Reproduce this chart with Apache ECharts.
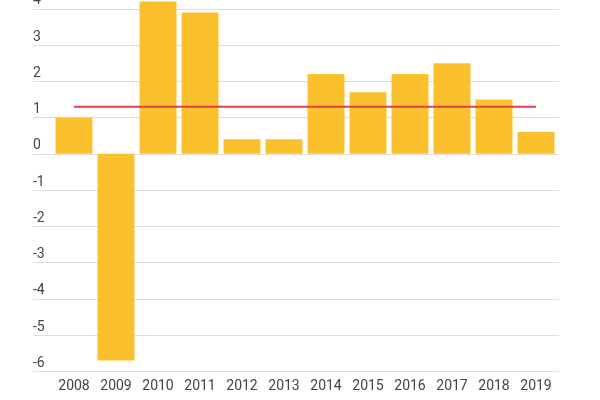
<!DOCTYPE html>
<html>
<head>
<meta charset="utf-8">
<script src="https://cdn.jsdelivr.net/npm/echarts@6/dist/echarts.min.js"></script>
<style>
html,body{margin:0;padding:0;background:#fff;overflow:hidden;}
#chart{width:600px;height:428px;margin-top:-28px;}
</style>
</head>
<body>
<div id="chart"></div>
<script>
var categories = ['2008','2009','2010','2011','2012','2013','2014','2015','2016','2017','2018','2019'];
var growth = [1.0, -5.7, 4.2, 3.9, 0.4, 0.4, 2.2, 1.7, 2.2, 2.5, 1.5, 0.6];
var average = [1.3, 1.3, 1.3, 1.3, 1.3, 1.3, 1.3, 1.3, 1.3, 1.3, 1.3, 1.3];
var yMin = -6, yMax = 5, yStep = 1;

var chart = echarts.init(document.getElementById('chart'), null, {renderer: 'canvas'});
var font = 'Roboto, "Noto Sans", sans-serif';
chart.setOption({
  animation: false,
  backgroundColor: '#ffffff',
  grid: [
    {left: 33, right: 41, top: 0.5, bottom: 28.7, outerBoundsMode: 'none', containLabel: false},
    {left: 53, right: 43, top: 0.5, bottom: 28.7, outerBoundsMode: 'none', containLabel: false}
  ],
  xAxis: [
    {gridIndex: 0, type: 'value', show: false, min: 0, max: 1},
    {gridIndex: 1, type: 'category', data: categories,
     axisLine: {show: false}, axisTick: {show: false},
     axisLabel: {color: '#444', fontSize: 14, fontFamily: font, margin: 8}}
  ],
  yAxis: [
    {gridIndex: 0, type: 'value', min: yMin, max: yMax, interval: yStep,
     axisLine: {show: false}, axisTick: {show: false},
     splitLine: {lineStyle: {color: '#dcdcdc', width: 1}},
     axisLabel: {inside: true, margin: 0, align: 'left', verticalAlign: 'bottom',
       lineHeight: 14, padding: [0, 0, 1, 0],
       color: '#444', fontSize: 14, fontFamily: font}},
    {gridIndex: 1, type: 'value', min: yMin, max: yMax, interval: yStep, show: false,
     splitLine: {show: false}}
  ],
  series: [
    {type: 'bar', xAxisIndex: 1, yAxisIndex: 1, data: growth, barWidth: 37,
     itemStyle: {color: '#FBC02D'}},
    {type: 'line', xAxisIndex: 1, yAxisIndex: 1, data: average, symbol: 'none',
     lineStyle: {color: '#DB4446', width: 2}, z: 5}
  ]
});
</script>
</body>
</html>
